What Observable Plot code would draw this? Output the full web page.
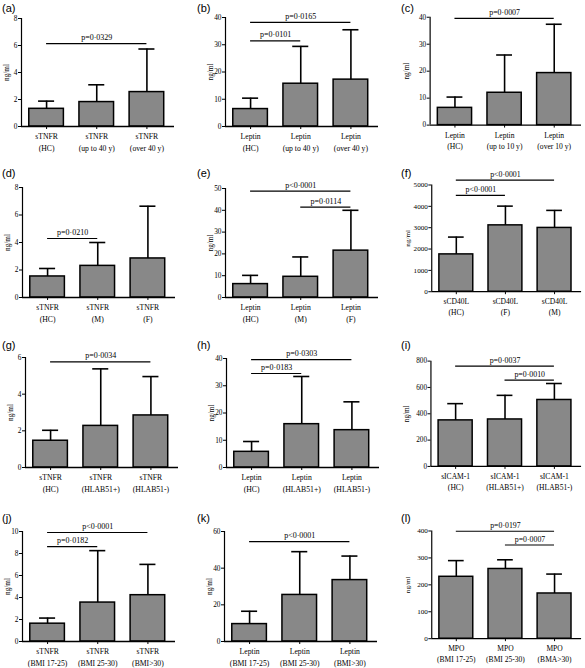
<!DOCTYPE html>
<html><head><meta charset="utf-8">
<script src="https://cdn.jsdelivr.net/npm/d3@7"></script>
<script src="https://cdn.jsdelivr.net/npm/@observablehq/plot@0.6"></script>
<style>
body{margin:0;background:#fff;}
#wrap{position:relative;width:585px;height:668px;overflow:hidden;background:#fff;}
.panel{position:absolute;}
.panel svg{overflow:visible;}
.letter{position:absolute;font-family:"Liberation Sans",Arial,sans-serif;font-size:11px;line-height:12px;color:#000;}
</style></head><body><div id="wrap"></div>
<script>
// ---------- data ----------
const panelLetters = ["(a)","(b)","(c)","(d)","(e)","(f)","(g)","(h)","(i)","(j)","(k)","(l)"];
const analytes = ["sTNFR","Leptin","Leptin","sTNFR","Leptin","sCD40L","sTNFR","Leptin","sICAM-1","sTNFR","Leptin","MPO"];
const groups = [
  ["(HC)","(up to 40 y)","(over 40 y)"],
  ["(HC)","(up to 40 y)","(over 40 y)"],
  ["(HC)","(up to 10 y)","(over 10 y)"],
  ["(HC)","(M)","(F)"],
  ["(HC)","(M)","(F)"],
  ["(HC)","(F)","(M)"],
  ["(HC)","(HLAB51+)","(HLAB51-)"],
  ["(HC)","(HLAB51+)","(HLAB51-)"],
  ["(HC)","(HLAB51+)","(HLAB51-)"],
  ["(BMI 17-25)","(BMI 25-30)","(BMI>30)"],
  ["(BMI 17-25)","(BMI 25-30)","(BMI>30)"],
  ["(BMI 17-25)","(BMI 25-30)","(BMA>30)"]
];
const means = [
  [1.31,1.81,2.55],
  [6.4,15.7,17.2],
  [6.4,12.0,19.3],
  [1.53,2.30,2.84],
  [6.15,9.5,21.5],
  [1750,3110,2990],
  [1.46,2.27,2.84],
  [5.75,15.9,13.7],
  [350,357,505],
  [1.62,3.54,4.21],
  [9.5,25.4,33.5],
  [230,259,168]
];
const upperSD = [
  [1.88,3.09,5.74],
  [10.4,29.4,35.5],
  [10.4,26.0,37.4],
  [2.11,4.0,6.64],
  [10.15,18.6,40.0],
  [2560,4010,3810],
  [2.03,5.38,4.96],
  [9.54,33.4,24.1],
  [477,540,630],
  [2.13,8.26,7.01],
  [16.5,49.0,46.6],
  [290,293,240]
];
const yMax = [8,40,40,8,50,5000,6,40,800,10,60,400];
const yTicks = [
  [0,2,4,6,8],
  [0,10,20,30,40],
  [0,10,20,30,40],
  [0,2,4,6,8],
  [0,10,20,30,40,50],
  [0,1000,2000,3000,4000,5000],
  [0,2,4,6],
  [0,10,20,30,40],
  [0,200,400,600,800],
  [0,2,4,6,8,10],
  [0,20,40,60],
  [0,100,200,300,400]
];
const sigFrom  = [[0],[0,0],[0],[0],[0,1],[0,0],[0],[0,0],[0,1],[0,0],[0],[0,1]];
const sigTo    = [[2],[1,2],[2],[1],[2,2],[1,2],[2],[1,2],[2,2],[1,2],[2],[2,2]];
const sigLevel = [[6.14],[31.4,38.2],[39.6],[4.29],[48.8,41.5],[4510,5230],[5.76],[34.5,39.6],[762,655],[8.63,9.91],[54.5],[399,348]];
const sigText  = [["p=0·0329"],["p=0·0101","p=0·0165"],["p=0·0007"],["p=0·0210"],["p<0·0001","p=0·0114"],["p<0·0001","p<0·0001"],["p=0·0034"],["p=0·0183","p=0·0303"],["p=0·0037","p=0·0010"],["p=0·0182","p<0·0001"],["p<0·0001"],["p=0·0197","p=0·0007"]];
const yLabel = "ng/ml";

// ---------- layout (page pixels) ----------
const axisLeft = [21,225,430, 22,225,432, 25,226,431, 22,224,432];
const zeroY    = [126,126,126, 297,297,294, 467,467,468, 641,641,641];
const topY     = [18,17,17, 187,188,185, 357,358,361, 531,531,531];
const letterX  = [2,197,401];
const letterY  = [2,167,339,512];
const labelOff = [18,18,27];
const plotW = 153, mL = 36, mR = 4, mT = 24, mB = 32;

const wrap = document.getElementById("wrap");

for (let k = 0; k < 12; k++) {
  const col = k % 3, row = Math.floor(k / 3);
  const plotH = zeroY[k] - topY[k];
  const data = means[k].map((m, i) => ({i, mean: m, upper: upperSD[k][i]}));
  const sig = sigFrom[k].map((f, j) => ({from: f, to: sigTo[k][j], y: sigLevel[k][j], p: sigText[k][j]}));
  const names = groups[k].map(g => analytes[k] + "\n" + g);

  const chart = Plot.plot({
    width: mL + plotW + mR,
    height: mT + plotH + mB,
    marginLeft: mL, marginRight: mR, marginTop: mT, marginBottom: mB,
    style: {fontFamily: "'Liberation Serif', 'Times New Roman', serif", fontSize: "7.7px", color: "#000", background: "transparent", overflow: "visible"},
    x: {domain: [-0.5, 2.55]},
    y: {domain: [0, yMax[k]]},
    marks: [
      Plot.rect(data, {x1: d => d.i - 0.345, x2: d => d.i + 0.345, y1: () => 0, y2: "mean", fill: "#888888", stroke: "#000", strokeWidth: 1.5}),
      Plot.ruleX(data, {x: "i", y1: "mean", y2: "upper", stroke: "#000", strokeWidth: 1.6}),
      Plot.ruleY(data, {x1: d => d.i - 0.16, x2: d => d.i + 0.16, y: "upper", stroke: "#000", strokeWidth: 1.6}),
      Plot.ruleX([-0.5], {stroke: "#000", strokeWidth: 1.2}),
      Plot.ruleY([0], {stroke: "#000", strokeWidth: 1.3}),
      Plot.axisY({ticks: yTicks[k], tickFormat: d => String(d), tickSize: 3, tickPadding: 1, fontSize: 7.3, label: yLabel, labelAnchor: "center", labelOffset: labelOff[col], labelArrow: false}),
      Plot.axisX({ticks: [0, 1, 2], tickFormat: i => names[i], tickSize: 3, tickPadding: 2, lineHeight: 1.45, label: null}),
      Plot.ruleY(sig, {x1: "from", x2: "to", y: "y", stroke: "#000", strokeWidth: 1.2}),
      Plot.text(sig, {x: d => (d.from + d.to) / 2, y: "y", text: "p", dy: -6, fontSize: 8})
    ]
  });
  const holder = document.createElement("div");
  holder.className = "panel";
  holder.style.left = (axisLeft[k] - mL) + "px";
  holder.style.top = (topY[k] - mT) + "px";
  holder.appendChild(chart);
  wrap.appendChild(holder);

  const lab = document.createElement("div");
  lab.className = "letter";
  lab.textContent = panelLetters[k];
  lab.style.left = letterX[col] + "px";
  lab.style.top = letterY[row] + "px";
  wrap.appendChild(lab);
}
</script>
</body></html>
